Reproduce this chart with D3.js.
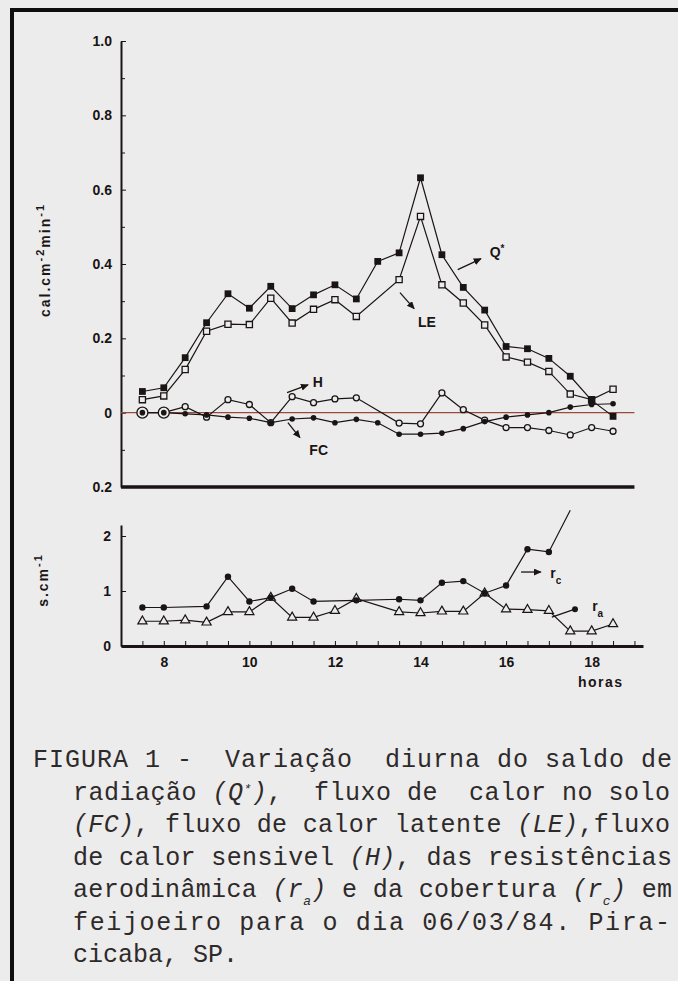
<!DOCTYPE html>
<html>
<head>
<meta charset="utf-8">
<script src="https://cdn.jsdelivr.net/npm/d3@7"></script>
<style>
html, body { margin:0; background:#ececec; overflow:hidden; }
svg { display:block; }
.tick text { font-family:"Liberation Sans", Arial, sans-serif; font-weight:bold; font-size:14px; fill:#1a1414; }
.axis path, .axis line { stroke:#1a1414; }
.caption { font-family:"Liberation Mono", monospace; font-size:25px; fill:#2e2a2a; white-space:pre; }
.lbl { font-family:"Liberation Sans", Arial, sans-serif; font-weight:bold; font-size:14px; fill:#1a1414; }
</style>
</head>
<body>
<div id="chart"></div>
<script>
var width = 678, height = 981;

// hours of observation (half-hourly)
var hours = [7.5,8,8.5,9,9.5,10,10.5,11,11.5,12,12.5,13,13.5,14,14.5,15,15.5,16,16.5,17,17.5,18,18.5];
// cal.cm-2.min-1
var qStar = [0.057,0.067,0.148,0.242,0.320,0.281,0.340,0.280,0.317,0.344,0.306,0.407,0.430,0.632,0.425,0.337,0.276,0.178,0.172,0.146,0.098,0.033,-0.010];
var le    = [0.035,0.045,0.116,0.219,0.238,0.237,0.308,0.241,0.278,0.304,0.259,null,0.358,0.528,0.344,0.295,0.236,0.150,0.136,0.111,0.050,0.035,0.063];
var hFlux = [0,0,0.016,-0.012,0.035,0.022,-0.027,0.043,0.027,0.037,0.040,null,-0.028,-0.030,0.053,0.008,-0.020,-0.040,-0.040,-0.048,-0.060,-0.040,-0.050];
var fc    = [0,0,-0.003,-0.006,-0.012,-0.015,-0.027,-0.017,-0.014,-0.027,-0.018,-0.027,-0.058,-0.058,-0.055,-0.043,-0.024,-0.012,-0.006,0,0.015,0.022,0.024];
// s.cm-1
var rc = [0.70,0.70,null,0.72,1.26,0.81,0.88,1.04,0.81,null,0.83,null,0.85,0.83,1.15,1.18,0.96,1.10,1.76,1.71,2.47,null,null];
var ra = [0.45,0.45,0.47,0.43,0.62,0.62,0.88,0.52,0.52,0.64,0.86,null,0.62,0.60,0.63,0.63,0.96,0.67,0.66,0.64,0.27,0.27,0.40];

var topTicks = [-0.2,0,0.2,0.4,0.6,0.8,1.0];
var topTickLabels = ["0.2","0","0.2","0.4","0.6","0.8","1.0"];
var topMinor = [-0.1,0.1,0.3,0.5,0.7,0.9];
var botTicks = [0,1,2];
var xLabels = [8,10,12,14,16,18];

var ink = "#1a1414", bg = "#ececec";

var svg = d3.select("#chart")
  .append("svg")
  .attr("width", width)
  .attr("height", height)
  .style("background", bg);

var defs = svg.append("defs");
defs.append("marker")
  .attr("id","arr")
  .attr("markerUnits","userSpaceOnUse")
  .attr("markerWidth",9).attr("markerHeight",8)
  .attr("refX",7).attr("refY",3.5)
  .attr("orient","auto")
  .append("path").attr("d","M0,0 L8,3.5 L0,7 Z").attr("fill",ink);

// page frame: top edge and left edge only
svg.append("line")
  .attr("x1",10).attr("x2",width).attr("y1",10).attr("y2",10)
  .attr("stroke","#0e0e0e").attr("stroke-width",4);
svg.append("line")
  .attr("x1",12).attr("x2",12).attr("y1",8).attr("y2",height)
  .attr("stroke","#0e0e0e").attr("stroke-width",4);

var x = d3.scaleLinear().domain([7,19.2]).range([121,643]);
var yTop = d3.scaleLinear().domain([-0.2,1.0]).range([487,41]);
var yBot = d3.scaleLinear().domain([0,2.2]).range([646,525]);

// ---- upper panel axes
svg.append("g").attr("class","axis")
  .attr("transform",`translate(${x(7)},0)`)
  .call(d3.axisLeft(yTop).tickValues(topMinor).tickFormat("").tickSize(-4).tickSizeOuter(0))
  .call(g => g.select(".domain").remove());

svg.append("g").attr("class","axis")
  .attr("transform",`translate(${x(7)},0)`)
  .call(d3.axisLeft(yTop).tickValues(topTicks).tickFormat((d,i) => topTickLabels[i]).tickSize(-5).tickSizeOuter(0).tickPadding(9))
  .call(g => g.select(".domain").attr("stroke-width",2));

svg.append("line")
  .attr("x1",x(7)).attr("x2",x(19))
  .attr("y1",yTop(0)).attr("y2",yTop(0))
  .attr("stroke","#9a4a3a").attr("stroke-width",1.2);

svg.append("line")
  .attr("x1",x(7)).attr("x2",x(19))
  .attr("y1",yTop(-0.2)).attr("y2",yTop(-0.2))
  .attr("stroke",ink).attr("stroke-width",3.5);

// ---- lower panel axes
svg.append("g").attr("class","axis")
  .attr("transform",`translate(${x(7)},0)`)
  .call(d3.axisLeft(yBot).tickValues(botTicks).tickFormat(d3.format("d")).tickSize(-5).tickSizeOuter(0).tickPadding(10))
  .call(g => g.select(".domain").attr("stroke-width",2));

svg.append("g").attr("class","axis")
  .attr("transform",`translate(0,${yBot(0)})`)
  .call(d3.axisBottom(x).tickValues(d3.range(7.5,19.01,0.5)).tickFormat(d => xLabels.indexOf(d) >= 0 ? d : "").tickSize(-5).tickSizeOuter(0).tickPadding(11))
  .call(g => g.select(".domain").attr("stroke-width",3));

// ---- series
function pts(vals) {
  return hours.map((hh,i) => ({h:hh, v:vals[i]})).filter(d => d.v !== null);
}
var lineTop = d3.line().x(d => x(d.h)).y(d => yTop(d.v));
var lineBot = d3.line().x(d => x(d.h)).y(d => yBot(d.v));

function drawLine(data, gen) {
  svg.append("path")
    .attr("d", gen(data))
    .attr("fill","none").attr("stroke",ink).attr("stroke-width",1.2);
}

drawLine(pts(hFlux), lineTop);
drawLine(pts(fc), lineTop);
drawLine(pts(le), lineTop);
drawLine(pts(qStar), lineTop);
drawLine(pts(ra), lineBot);
drawLine(pts(rc), lineBot);

svg.selectAll(".hpt").data(pts(hFlux)).enter()
  .append("circle").attr("class","hpt")
  .attr("cx", d => x(d.h)).attr("cy", d => yTop(d.v))
  .attr("r", (d,i) => i < 2 ? 5.5 : 3)
  .attr("fill",bg).attr("stroke",ink).attr("stroke-width",1.3);

svg.selectAll(".fcpt").data(pts(fc)).enter()
  .append("circle").attr("class","fcpt")
  .attr("cx", d => x(d.h)).attr("cy", d => yTop(d.v))
  .attr("r",2.8).attr("fill",ink);

svg.selectAll(".lept").data(pts(le)).enter()
  .append("path").attr("class","lept")
  .attr("transform", d => `translate(${x(d.h)},${yTop(d.v)})`)
  .attr("d", d3.symbol(d3.symbolSquare, 38)())
  .attr("fill",bg).attr("stroke",ink).attr("stroke-width",1.3);

svg.selectAll(".qpt").data(pts(qStar)).enter()
  .append("path").attr("class","qpt")
  .attr("transform", d => `translate(${x(d.h)},${yTop(d.v)})`)
  .attr("d", d3.symbol(d3.symbolSquare, 46)())
  .attr("fill",ink);

svg.selectAll(".rapt").data(pts(ra)).enter()
  .append("path").attr("class","rapt")
  .attr("transform", d => `translate(${x(d.h)},${yBot(d.v)})`)
  .attr("d", d3.symbol(d3.symbolTriangle, 36)())
  .attr("fill",bg).attr("stroke",ink).attr("stroke-width",1.2);

svg.selectAll(".rcpt").data(pts(rc).filter(d => d.v <= 2.2)).enter()
  .append("circle").attr("class","rcpt")
  .attr("cx", d => x(d.h)).attr("cy", d => yBot(d.v))
  .attr("r",3.2).attr("fill",ink);

// ---- series labels with pointers
var topNotes = [
  {t:"Q", sup:"*", h:15.79, v:0.433, a:[[14.87,0.385],[15.41,0.414]]},
  {t:"LE", h:14.15, v:0.245, a:[[13.52,0.323],[13.85,0.280]]},
  {t:"H", h:11.60, v:0.081, a:[[10.88,0.054],[11.37,0.075]]},
  {t:"FC", h:11.62, v:-0.100, a:[[10.90,-0.027],[11.18,-0.067]]}
];
var botNotes = [
  {t:"r", sub:"c", h:17.16, v:1.33, a:[[16.35,1.345],[16.81,1.345]], head:true},
  {t:"r", sub:"a", h:18.14, v:0.73, a:[[17.07,0.527],[17.61,0.67]], head:false}
];

function note(n, ys, head) {
  svg.append("line")
    .attr("x1",x(n.a[0][0])).attr("y1",ys(n.a[0][1]))
    .attr("x2",x(n.a[1][0])).attr("y2",ys(n.a[1][1]))
    .attr("stroke",ink).attr("stroke-width",1.3)
    .attr("marker-end", head ? "url(#arr)" : null);
  if (!head) {
    svg.append("circle").attr("cx",x(n.a[1][0])).attr("cy",ys(n.a[1][1])).attr("r",3).attr("fill",ink);
  }
  var t = svg.append("text").attr("class","lbl")
    .attr("x",x(n.h)).attr("y",ys(n.v)).attr("dy","0.35em")
    .attr("text-anchor","middle").text(n.t);
  if (n.sup) t.append("tspan").attr("font-size",10).attr("baseline-shift","super").text(n.sup);
  if (n.sub) t.append("tspan").attr("font-size",10).attr("baseline-shift","sub").text(n.sub);
}
topNotes.forEach(n => note(n, yTop, true));
botNotes.forEach(n => note(n, yBot, n.head));

// ---- axis titles
var t1 = svg.append("text").attr("class","lbl")
  .attr("transform","translate(50,260) rotate(-90)")
  .attr("text-anchor","middle").style("letter-spacing","2px").attr("font-size",15);
t1.append("tspan").text("cal.cm");
t1.append("tspan").attr("font-size",11).attr("baseline-shift","super").text("-2");
t1.append("tspan").text("min");
t1.append("tspan").attr("font-size",11).attr("baseline-shift","super").text("-1");

var t2 = svg.append("text").attr("class","lbl")
  .attr("transform","translate(48,580) rotate(-90)")
  .attr("text-anchor","middle").style("letter-spacing","2px").attr("font-size",15);
t2.append("tspan").text("s.cm");
t2.append("tspan").attr("font-size",11).attr("baseline-shift","super").text("-1");

svg.append("text").attr("class","lbl")
  .attr("x",578).attr("y",687)
  .attr("font-size",15).style("letter-spacing","1.5px")
  .text("horas");

// ---- caption
var caption = [
  {x:33, w:639, segs:[{t:"FIGURA 1 -  Variação  diurna do saldo de"}]},
  {x:73, w:597, segs:[{t:"radiação "},{t:"(Q",i:1},{t:"*",i:1,sup:1},{t:")",i:1},{t:",  fluxo de  calor no solo"}]},
  {x:73, w:597, segs:[{t:"(FC)",i:1},{t:", fluxo de calor latente "},{t:"(LE)",i:1},{t:",fluxo"}]},
  {x:73, w:599, segs:[{t:"de calor sensivel "},{t:"(H)",i:1},{t:", das resistências"}]},
  {x:73, w:599, segs:[{t:"aerodinâmica "},{t:"(r",i:1},{t:"a",i:1,sub:1},{t:")",i:1},{t:" e da cobertura "},{t:"(r",i:1},{t:"c",i:1,sub:1},{t:")",i:1},{t:" em"}]},
  {x:73, w:597, segs:[{t:"feijoeiro para o dia 06/03/84. Pira-"}]},
  {x:73, w:0, segs:[{t:"cicaba, SP."}]}
];

caption.forEach(function(line, k) {
  var txt = svg.append("text").attr("class","caption")
    .attr("x", line.x).attr("y", 767 + k*32.5);
  if (line.w) txt.attr("textLength", line.w).attr("lengthAdjust","spacing");
  line.segs.forEach(function(s) {
    var sp = txt.append("tspan").text(s.t);
    if (s.i) sp.attr("font-style","italic");
    if (s.sup) sp.attr("font-size",13).attr("baseline-shift","super");
    if (s.sub) sp.attr("font-size",13).attr("baseline-shift","sub");
  });
});
</script>
</body>
</html>
